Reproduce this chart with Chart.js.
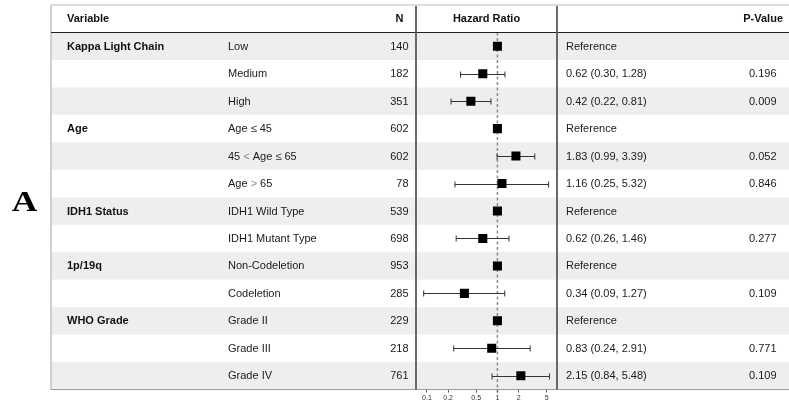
<!DOCTYPE html>
<html>
<head>
<meta charset="utf-8">
<script src="https://cdn.jsdelivr.net/npm/chart.js@4/dist/chart.umd.min.js"></script>
<style>
  html, body { margin: 0; padding: 0; background: #ffffff; }
  #wrap { width: 789px; height: 405px; }
</style>
</head>
<body>
<div id="wrap"><canvas id="forest" width="789" height="405"></canvas></div>
<script>
// Cox model results, one entry per table row
const groups = ['Kappa Light Chain', '', '', 'Age', '', '', 'IDH1 Status', '', '1p/19q', '', 'WHO Grade', '', ''];
const levels = ['Low', 'Medium', 'High', 'Age ≤ 45', '45 < Age ≤ 65', 'Age > 65',
                'IDH1 Wild Type', 'IDH1 Mutant Type', 'Non-Codeletion', 'Codeletion',
                'Grade II', 'Grade III', 'Grade IV'];
const counts = [140, 182, 351, 602, 602, 78, 539, 698, 953, 285, 229, 218, 761];
const hazardRatios = [1, 0.62, 0.42, 1, 1.83, 1.16, 1, 0.62, 1, 0.34, 1, 0.83, 2.15];
const lowerCI = [null, 0.30, 0.22, null, 0.99, 0.25, null, 0.26, null, 0.09, null, 0.24, 0.84];
const upperCI = [null, 1.28, 0.81, null, 3.39, 5.32, null, 1.46, null, 1.27, null, 2.91, 5.48];
const pValues = [null, '0.196', '0.009', null, '0.052', '0.846', null, '0.277', null, '0.109', null, '0.771', '0.109'];
const xTicks = [0.1, 0.2, 0.5, 1, 2, 5];
const headers = ['Variable', 'N', 'Hazard Ratio', 'P-Value'];
const panelLabel = 'A';

const FONT = '"Liberation Sans", Arial, sans-serif';
const TABLE_LEFT = 51, TABLE_RIGHT = 789, HEADER_TOP = 5;

function estimateText(i) {
  if (lowerCI[i] === null) return 'Reference';
  return hazardRatios[i].toFixed(2) + ' (' + lowerCI[i].toFixed(2) + ', ' + upperCI[i].toFixed(2) + ')';
}

// draws a level label, showing the comparison signs in a lighter grey
function drawLevel(ctx, text, x, y) {
  const parts = text.split(/([<>])/);
  let cx = x;
  for (const p of parts) {
    if (!p) continue;
    const light = p === '<' || p === '>';
    ctx.fillStyle = light ? '#8a8a8a' : '#1a1a1a';
    ctx.font = (light ? '300 ' : '') + '11px ' + FONT;
    ctx.fillText(p, cx, y);
    cx += ctx.measureText(p).width;
  }
}

const tablePlugin = {
  id: 'forestTable',
  beforeDraw(chart) {
    const { ctx, chartArea, scales } = chart;
    const ys = scales.y, xs = scales.x;
    ctx.save();
    ctx.fillStyle = '#ffffff';
    ctx.fillRect(0, 0, chart.width, chart.height);
    // striped rows
    ctx.fillStyle = '#eeeeee';
    for (let i = 0; i < levels.length; i += 2) {
      const top = ys.getPixelForValue(i + 0.5);
      const bot = ys.getPixelForValue(i + 1.5);
      ctx.fillRect(TABLE_LEFT, top, TABLE_RIGHT - TABLE_LEFT, bot - top);
    }
    // reference line at HR = 1
    const x1 = xs.getPixelForValue(1);
    ctx.strokeStyle = '#8c8c8c';
    ctx.lineWidth = 1.5;
    ctx.setLineDash([3, 2.5]);
    ctx.beginPath();
    ctx.moveTo(x1, chartArea.top);
    ctx.lineTo(x1, chartArea.bottom + 3);
    ctx.stroke();
    ctx.restore();
  },
  beforeDatasetsDraw(chart) {
    const { ctx, scales } = chart;
    const xs = scales.x, ys = scales.y;
    ctx.save();
    ctx.strokeStyle = '#333333';
    ctx.lineWidth = 1;
    for (let i = 0; i < levels.length; i++) {
      if (lowerCI[i] === null) continue;
      const y = Math.round(ys.getPixelForValue(i + 1)) + 0.5;
      const xl = xs.getPixelForValue(lowerCI[i]);
      const xr = xs.getPixelForValue(upperCI[i]);
      ctx.beginPath();
      ctx.moveTo(xl, y); ctx.lineTo(xr, y);
      ctx.moveTo(xl, y - 3); ctx.lineTo(xl, y + 3);
      ctx.moveTo(xr, y - 3); ctx.lineTo(xr, y + 3);
      ctx.stroke();
    }
    ctx.restore();
  },
  afterDraw(chart) {
    const { ctx, chartArea, scales } = chart;
    const ys = scales.y;
    const colN = 408.5, colLevel = 228, colVar = 67, colEst = 566, colP = 776.5;
    ctx.save();
    ctx.textBaseline = 'middle';

    // header
    const hy = (HEADER_TOP + chartArea.top) / 2 + 0.5;
    ctx.fillStyle = '#111111';
    ctx.font = 'bold 11px ' + FONT;
    ctx.textAlign = 'left';
    ctx.fillText(headers[0], colVar, hy);
    ctx.textAlign = 'right';
    ctx.fillText(headers[1], 403.5, hy);
    ctx.textAlign = 'center';
    ctx.fillText(headers[2], (chartArea.left + chartArea.right) / 2, hy);
    ctx.textAlign = 'right';
    ctx.fillText(headers[3], 783, hy);

    // body rows
    for (let i = 0; i < levels.length; i++) {
      const y = ys.getPixelForValue(i + 1) + 0.5;
      if (groups[i]) {
        ctx.textAlign = 'left';
        ctx.fillStyle = '#111111';
        ctx.font = 'bold 11px ' + FONT;
        ctx.fillText(groups[i], colVar, y);
      }
      ctx.textAlign = 'left';
      drawLevel(ctx, levels[i], colLevel, y);
      ctx.fillStyle = '#1a1a1a';
      ctx.font = '11px ' + FONT;
      ctx.textAlign = 'right';
      ctx.fillText(String(counts[i]), colN, y);
      ctx.textAlign = 'left';
      ctx.fillText(estimateText(i), colEst, y);
      if (pValues[i]) {
        ctx.textAlign = 'right';
        ctx.fillText(pValues[i], colP, y);
      }
    }

    // rules and borders
    ctx.strokeStyle = '#d0d0d0';
    ctx.lineWidth = 1.5;
    ctx.beginPath();
    ctx.moveTo(TABLE_LEFT, HEADER_TOP); ctx.lineTo(TABLE_RIGHT, HEADER_TOP);
    ctx.stroke();
    ctx.lineWidth = 2;
    ctx.beginPath();
    ctx.moveTo(TABLE_LEFT, HEADER_TOP); ctx.lineTo(TABLE_LEFT, chartArea.bottom);
    ctx.stroke();

    ctx.strokeStyle = '#9a9a9a';
    ctx.lineWidth = 1;
    ctx.beginPath();
    ctx.moveTo(TABLE_LEFT, chartArea.bottom); ctx.lineTo(TABLE_RIGHT, chartArea.bottom);
    ctx.stroke();

    ctx.strokeStyle = '#222222';
    ctx.lineWidth = 1;
    ctx.beginPath();
    ctx.moveTo(TABLE_LEFT, chartArea.top); ctx.lineTo(TABLE_RIGHT, chartArea.top);
    ctx.stroke();

    ctx.strokeStyle = '#5a5a5a';
    ctx.lineWidth = 1.8;
    ctx.beginPath();
    ctx.moveTo(chartArea.left, HEADER_TOP + 1); ctx.lineTo(chartArea.left, chartArea.bottom);
    ctx.moveTo(chartArea.right, HEADER_TOP + 1); ctx.lineTo(chartArea.right, chartArea.bottom);
    ctx.stroke();

    // panel letter (slightly widened serif capital)
    ctx.fillStyle = '#000000';
    ctx.font = 'bold 30px "Liberation Serif", "Times New Roman", serif';
    ctx.textAlign = 'center';
    ctx.textBaseline = 'alphabetic';
    ctx.translate(24.5, 210.5);
    ctx.scale(1.18, 1);
    ctx.fillText(panelLabel, 0, 0);
    ctx.restore();
  }
};

new Chart(document.getElementById('forest'), {
  type: 'scatter',
  data: {
    datasets: [{
      label: 'Hazard Ratio',
      data: hazardRatios.map((v, i) => ({ x: v, y: i + 1 })),
      pointStyle: 'rect',
      pointRadius: 6.4,
      pointHoverRadius: 6.4,
      backgroundColor: '#000000',
      borderWidth: 0
    }]
  },
  options: {
    responsive: false,
    animation: false,
    events: [],
    layout: { padding: { left: 416, right: 232, top: 32.5, bottom: 0 } },
    plugins: { legend: { display: false }, tooltip: { enabled: false } },
    scales: {
      x: {
        type: 'logarithmic',
        min: 0.07,
        max: 7,
        afterBuildTicks(scale) { scale.ticks = xTicks.map(v => ({ value: v })); },
        afterFit(scale) { scale.height = 15.5; },
        border: { display: false },
        grid: { drawOnChartArea: false, drawTicks: true, tickLength: 3, color: '#555555', lineWidth: 1 },
        ticks: {
          autoSkip: false,
          maxRotation: 0,
          padding: 1,
          color: '#333333',
          font: { family: FONT, size: 7 },
          callback: v => String(v)
        }
      },
      y: {
        type: 'linear',
        min: 0.5,
        max: 13.5,
        reverse: true,
        display: false
      }
    }
  },
  plugins: [tablePlugin]
});
</script>
</body>
</html>
